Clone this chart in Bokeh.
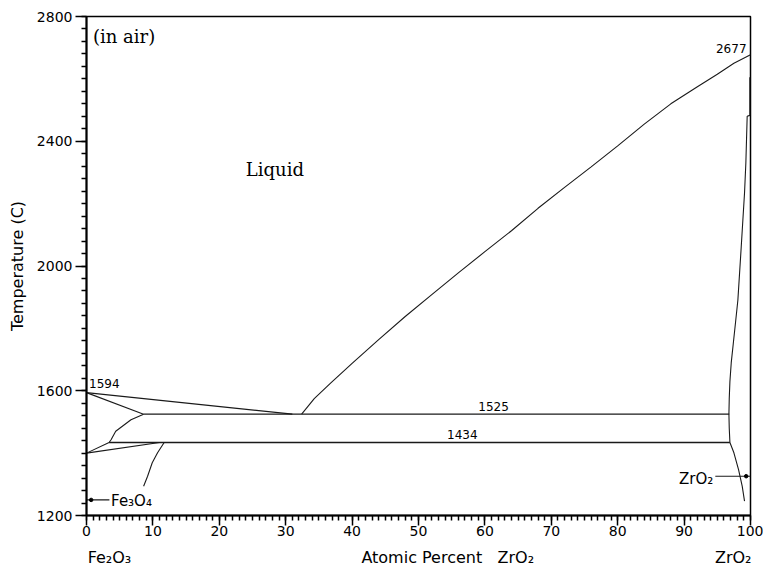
from bokeh.plotting import figure
from bokeh.models import FixedTicker, Label, Range1d, LinearAxis
from bokeh.embed import file_html
from bokeh.resources import INLINE

# ---------------- data (atomic % ZrO2, temperature C) ----------------
x_major = [0, 10, 20, 30, 40, 50, 60, 70, 80, 90, 100]
x_minor = list(range(0, 101))
t_major = [1200, 1600, 2000, 2400, 2800]
t_minor = list(range(1200, 2801, 40))

# composition labels under the axis: positions and texts
comp_pos = [3.46, 54.4, 97.4]
comp_text = ["Fe\u2082O\u2083", "Atomic Percent\u00a0\u00a0\u00a0ZrO\u2082", "ZrO\u2082"]

liq_left_x = [0, 31]
liq_left_t = [1594, 1525]

liq_right_x = [32.4, 34.3, 36.8, 40, 44, 48, 52, 56, 60, 64, 68, 72, 76,
               80, 84, 88, 92, 95, 97.5, 100]
liq_right_t = [1525, 1575, 1625, 1688, 1764, 1838, 1908, 1978, 2046, 2113,
               2185, 2252, 2318, 2385, 2455, 2520, 2575, 2615, 2650, 2677]

sol_fe_x = [0, 8.6]
sol_fe_t = [1594, 1525]

fe_ss_x = [8.6, 6.7, 4.4, 3.7, 3.4, 0]
fe_ss_t = [1525, 1507, 1470, 1443, 1434, 1400]

fe_low_x = [0, 11.0]
fe_low_t = [1400, 1434]

fe3o4_x = [11.7, 10.7, 9.9, 9.2, 8.6]
fe3o4_t = [1434, 1401, 1369, 1326, 1294]

tie_x = [[8.6, 96.8], [3.4, 96.9]]
tie_t = [[1525, 1525], [1434, 1434]]

zr_sol_x = [99.9, 99.9, 99.5, 99.3, 99.1, 98.6, 98.1, 97.7, 97.4, 97.1,
            96.9, 96.8, 96.75, 96.8, 96.9]
zr_sol_t = [2605, 2483, 2480, 2330, 2234, 2060, 1891, 1810, 1750, 1690,
            1630, 1575, 1525, 1480, 1434]

zr_low_x = [96.9, 97.5, 98.2, 98.75, 99.1]
zr_low_t = [1434, 1401, 1347, 1294, 1246]

mark_fe_x = [0, 3.45]
mark_fe_t = [1250, 1250]
dot_fe = (0.7, 1250)

mark_zr_x = [94.7, 100]
mark_zr_t = [1326, 1326]
dot_zr = (99.35, 1326)

# ---------------- figure ----------------
p = figure(width=763, height=578, output_backend="svg", toolbar_location=None,
           x_range=Range1d(0, 100), y_range=Range1d(1200, 2800),
           min_border_left=86, min_border_right=13, min_border_top=16,
           min_border_bottom=63)
p.background_fill_color = "white"
p.border_fill_color = "white"
p.outline_line_color = "black"
p.outline_line_width = 1.5
p.grid.visible = False

p.xaxis.ticker = FixedTicker(ticks=x_major, minor_ticks=x_minor)
p.yaxis.ticker = FixedTicker(ticks=t_major, minor_ticks=t_minor)
for ax in (p.xaxis, p.yaxis):
    ax.axis_line_color = "black"
    ax.axis_line_width = 2
    ax.major_tick_line_color = "black"
    ax.minor_tick_line_color = "black"
    ax.major_tick_line_width = 1.5
    ax.minor_tick_line_width = 1.5
    ax.major_tick_in = 0
    ax.minor_tick_in = 0
    ax.major_label_text_font = "DejaVu Sans"
    ax.major_label_text_font_size = "14px"
    ax.major_label_text_color = "black"
p.xaxis.major_tick_out = 10
p.xaxis.minor_tick_out = 5
p.xaxis.major_label_standoff = 0
p.yaxis.major_tick_out = 11
p.yaxis.minor_tick_out = 5
p.yaxis.major_label_standoff = 3
p.yaxis.axis_label = "Temperature (C)"
p.yaxis.axis_label_text_font = "DejaVu Sans"
p.yaxis.axis_label_text_font_size = "16px"
p.yaxis.axis_label_text_font_style = "normal"
p.yaxis.axis_label_text_color = "black"
p.yaxis.axis_label_standoff = 7

# second axis below carrying the composition names
comp_axis = LinearAxis(ticker=FixedTicker(ticks=comp_pos),
                       major_label_overrides={v: t for v, t in zip(comp_pos, comp_text)})
comp_axis.axis_line_color = None
comp_axis.major_tick_line_color = None
comp_axis.minor_tick_line_color = None
comp_axis.major_tick_out = 0
comp_axis.major_tick_in = 0
comp_axis.minor_tick_out = 0
comp_axis.minor_tick_in = 0
comp_axis.major_label_standoff = 9
comp_axis.major_label_text_font = "DejaVu Sans"
comp_axis.major_label_text_font_size = "16px"
comp_axis.major_label_text_color = "black"
p.add_layout(comp_axis, "below")

lc = "#1a1a1a"
lw = 1.1
p.line(liq_left_x, liq_left_t, line_color=lc, line_width=lw)
p.line(liq_right_x, liq_right_t, line_color=lc, line_width=lw)
p.line(sol_fe_x, sol_fe_t, line_color=lc, line_width=lw)
p.line(fe_ss_x, fe_ss_t, line_color=lc, line_width=lw)
p.line(fe_low_x, fe_low_t, line_color=lc, line_width=lw)
p.line(fe3o4_x, fe3o4_t, line_color=lc, line_width=lw)
p.multi_line(tie_x, tie_t, line_color=lc, line_width=1.4)
p.line(zr_sol_x, zr_sol_t, line_color=lc, line_width=lw)
p.line(zr_low_x, zr_low_t, line_color=lc, line_width=lw)
p.line(mark_fe_x, mark_fe_t, line_color=lc, line_width=lw)
p.line(mark_zr_x, mark_zr_t, line_color=lc, line_width=lw)
p.scatter([dot_fe[0], dot_zr[0]], [dot_fe[1], dot_zr[1]], size=3.5,
          fill_color="black", line_color="black")

def lab(text, x, y, font="DejaVu Sans", size="12px", align="left"):
    p.add_layout(Label(x=x, y=y, text=text,
                       text_font=font, text_font_size=size, text_align=align,
                       text_baseline="middle", text_color="black"))

lab("(in air)", 0.98, 2736, font="DejaVu Serif", size="18px")
lab("Liquid", 24.0, 2310, font="DejaVu Serif", size="18px")
lab("1594", 0.38, 1622)
lab("2677", 99.4, 2698, align="right")
lab("1525", 61.3, 1549, align="center")
lab("1434", 56.6, 1459, align="center")
lab("Fe\u2083O\u2084", 3.7, 1247, size="15px")
lab("ZrO\u2082", 94.4, 1318, size="15px", align="right")

open("out.html", "w").write(file_html(p, INLINE))
